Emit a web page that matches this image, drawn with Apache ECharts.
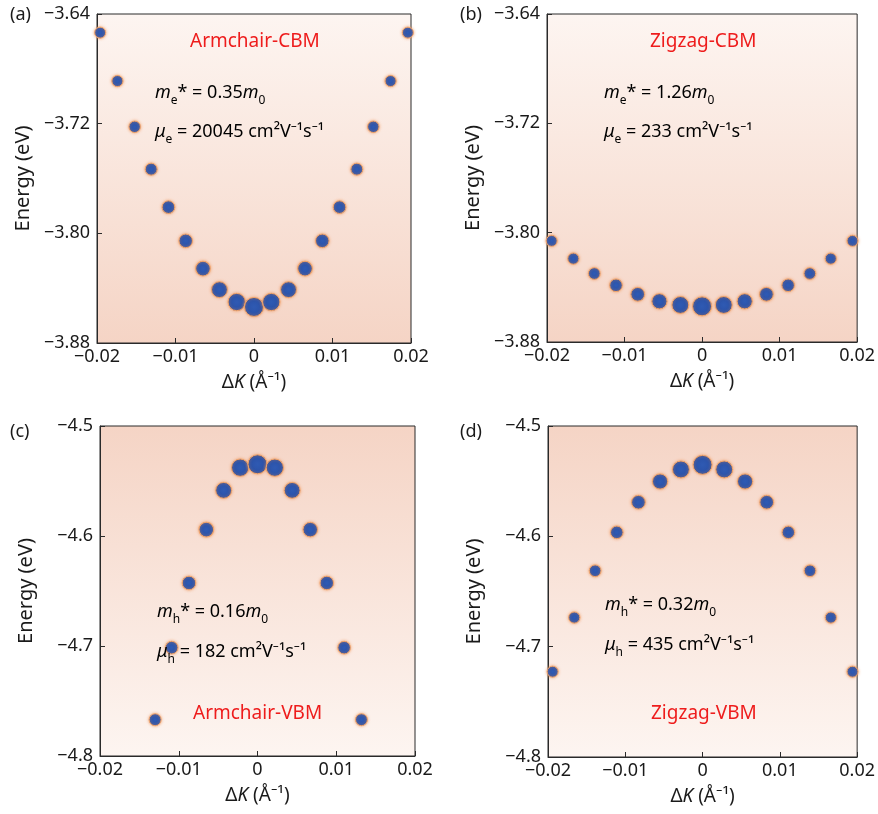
<!DOCTYPE html>
<html>
<head>
<meta charset="utf-8">
<script src="https://cdn.jsdelivr.net/npm/echarts@6/dist/echarts.min.js"></script>
<style>
html,body{margin:0;padding:0;background:#fff;}
#chart{width:878px;height:814px;}
</style>
</head>
<body>
<div id="chart"></div>
<script>
// ---- data ----
const kA = [-0.0196,-0.0174,-0.0152,-0.0131,-0.0109,-0.0087,-0.0065,-0.0044,-0.0022,0,0.0022,0.0044,0.0065,0.0087,0.0109,0.0131,0.0152,0.0174,0.0196];
const eA = [-3.6536,-3.6889,-3.7223,-3.7532,-3.7809,-3.8055,-3.8257,-3.8411,-3.8501,-3.8537,-3.8501,-3.8411,-3.8257,-3.8055,-3.7809,-3.7532,-3.7223,-3.6889,-3.6536];

const kB = [-0.0194,-0.0166,-0.0139,-0.0111,-0.0083,-0.0055,-0.0028,0,0.0028,0.0055,0.0083,0.0111,0.0139,0.0166,0.0194];
const eB = [-3.8060,-3.8190,-3.8299,-3.8385,-3.8451,-3.8502,-3.8529,-3.8539,-3.8529,-3.8502,-3.8451,-3.8385,-3.8299,-3.8190,-3.8060];

const kC = [-0.0130,-0.0109,-0.0087,-0.0065,-0.0043,-0.0022,0,0.0022,0.0044,0.0067,0.0088,0.0110,0.0132];
const eC = [-4.7670,-4.7015,-4.6427,-4.5942,-4.5585,-4.5379,-4.5348,-4.5379,-4.5585,-4.5942,-4.6427,-4.7015,-4.7670];

const kD = [-0.0194,-0.0166,-0.0139,-0.0111,-0.0083,-0.0055,-0.0028,0,0.0028,0.0055,0.0083,0.0111,0.0139,0.0166,0.0194];
const eD = [-4.7227,-4.6736,-4.6312,-4.5964,-4.5691,-4.5503,-4.5394,-4.5352,-4.5394,-4.5503,-4.5691,-4.5964,-4.6312,-4.6736,-4.7227];

const xTicks = [-0.02,-0.01,0,0.01,0.02];
const yTicksTop = [-3.88,-3.80,-3.72,-3.64];
const yTicksBottom = [-4.8,-4.7,-4.6,-4.5];
const panelLabels = ['(a)','(b)','(c)','(d)'];
const bandNames = ['Armchair-CBM','Zigzag-CBM','Armchair-VBM','Zigzag-VBM'];
const carrier = ['e','e','h','h'];
const massVals = ['0.35','1.26','0.16','0.32'];
const mobVals = ['20045','233','182','435'];

// ---- chart ----
const FONT = 'Noto Sans';
const chart = echarts.init(document.getElementById('chart'));
const minus = s => s.replace('-', '\u2212');

const grids = [
  {left: 97, top: 14, width: 314, height: 329, light: 'top'},
  {left: 547, top: 14, width: 313, height: 328, light: 'top'},
  {left: 100, top: 426, width: 315, height: 330, light: 'bottom'},
  {left: 548, top: 426, width: 312, height: 331, light: 'bottom'}
];
const yRanges = [
  {min: yTicksTop[0], max: yTicksTop[3], interval: 0.08, dec: 2},
  {min: yTicksTop[0], max: yTicksTop[3], interval: 0.08, dec: 2},
  {min: yTicksBottom[0], max: yTicksBottom[3], interval: 0.1, dec: 1},
  {min: yTicksBottom[0], max: yTicksBottom[3], interval: 0.1, dec: 1}
];
const dataSets = [[kA,eA],[kB,eB],[kC,eC],[kD,eD]];

function bg(light){
  const lightC = '#fdf5f1', darkC = '#f5d4c5';
  return new echarts.graphic.LinearGradient(0,0,0,1,[
    {offset:0, color: light==='top'?lightC:darkC},
    {offset:1, color: light==='top'?darkC:lightC}
  ]);
}

const option = {
  animation: false,
  backgroundColor: '#fff',
  textStyle: {fontFamily: FONT},
  grid: grids.map(g => ({left: g.left, top: g.top, width: g.width, height: g.height,
    show: true, backgroundColor: bg(g.light), borderColor: '#2a2a2a', borderWidth: 1})),
  xAxis: grids.map((g,i) => ({
    type: 'value', gridIndex: i, min: xTicks[0], max: xTicks[4], interval: 0.01,
    axisLine: {show: true, onZero: false, lineStyle: {color: '#2a2a2a', width: 1}},
    axisTick: {show: true, inside: true, length: 5, lineStyle: {color: '#2a2a2a'}},
    splitLine: {show: false},
    axisLabel: {color: '#1a1a1a', fontSize: 18, fontFamily: FONT, margin: 5,
      formatter: v => Math.abs(v) < 1e-9 ? '0' : minus(v.toFixed(2))},
    name: '{d|\u0394}{k|K}{d| (\u00c5\u207b\u00b9)}',
    nameLocation: 'middle', nameGap: 30,
    nameTextStyle: {rich: {
      d: {fontSize: 19, fontFamily: FONT, color: '#1a1a1a'},
      k: {fontSize: 19, fontFamily: FONT, fontStyle: 'italic', color: '#1a1a1a'}
    }}
  })),
  yAxis: grids.map((g,i) => ({
    type: 'value', gridIndex: i, min: yRanges[i].min, max: yRanges[i].max, interval: yRanges[i].interval,
    axisLine: {show: true, onZero: false, lineStyle: {color: '#2a2a2a', width: 1}},
    axisTick: {show: true, inside: true, length: 5, lineStyle: {color: '#2a2a2a'}},
    splitLine: {show: false},
    axisLabel: {color: '#1a1a1a', fontSize: 18, fontFamily: FONT, margin: 7,
      formatter: v => minus(v.toFixed(yRanges[i].dec))},
    name: 'Energy (eV)', nameLocation: 'middle', nameGap: 64,
    nameTextStyle: {fontSize: 20, fontFamily: FONT, color: '#1a1a1a'}
  })),
  series: dataSets.map((d,i) => ({
    type: 'scatter', xAxisIndex: i, yAxisIndex: i,
    data: d[0].map((k,j) => [k, d[1][j]]),
    symbolSize: val => { const t = 1 - Math.abs(val[0]) / 0.02; return 11 + 8 * t * t; },
    itemStyle: {
      color: new echarts.graphic.RadialGradient(0.5,0.5,0.5,[
        {offset:0, color:'#2f5ab3'},{offset:0.78, color:'#2b52a8'},{offset:1, color:'#203f8a'}]),
      borderColor: '#f0a56c', borderWidth: 1,
      shadowBlur: 3, shadowColor: 'rgba(240,150,90,0.8)', opacity: 1
    }
  }))
};

// annotations
const textPos = [
  {px: 10, py: 6, bx: 190, by: 32, mx: 155, my: 84, ux: 155, uy: 123},
  {px: 460, py: 6, bx: 650, by: 32, mx: 604, my: 84, ux: 604, uy: 123},
  {px: 10, py: 423, bx: 193, by: 704, mx: 157, my: 603, ux: 157, uy: 643},
  {px: 460, py: 423, bx: 651, by: 704, mx: 605, my: 596, ux: 605, uy: 636}
];
const rich = {
  mi: {fontSize: 18, fontFamily: FONT, fontStyle: 'italic', color: '#1a1a1a', lineHeight: 28, verticalAlign: 'middle'},
  n: {fontSize: 18, fontFamily: FONT, color: '#1a1a1a', lineHeight: 28, verticalAlign: 'middle'},
  sub: {fontSize: 12, fontFamily: FONT, color: '#1a1a1a', lineHeight: 11, verticalAlign: 'bottom'}
};
const graphics = [];
textPos.forEach((p,i) => {
  graphics.push({type: 'text', left: p.px, top: p.py, z: 10,
    style: {text: panelLabels[i], fontSize: 18, fontFamily: FONT, fill: '#1a1a1a'}});
  graphics.push({type: 'text', left: p.bx, top: p.by, z: 10,
    style: {text: bandNames[i], fontSize: 19, fontFamily: FONT, fill: '#ee1c1c'}});
  graphics.push({type: 'text', left: p.mx, top: p.my, z: 10,
    style: {text: '{mi|m}{sub|' + carrier[i] + '}{n|* = ' + massVals[i] + '}{mi|m}{sub|0}', rich: rich}});
  graphics.push({type: 'text', left: p.ux, top: p.uy, z: 10,
    style: {text: '{mi|\u03bc}{sub|' + carrier[i] + '}{n| = ' + mobVals[i] + ' cm\u00b2V\u207b\u00b9s\u207b\u00b9}', rich: rich}});
});
option.graphic = graphics;
chart.setOption(option);
</script>
</body>
</html>
